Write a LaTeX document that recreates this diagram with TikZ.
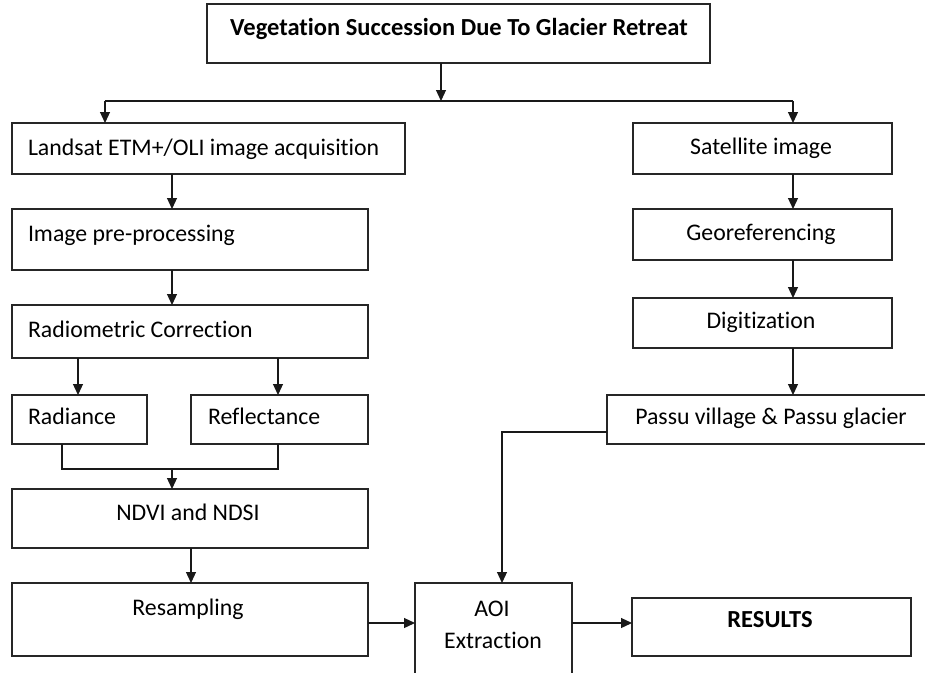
\documentclass[tikz,border=0pt]{standalone}
\usepackage{fontspec}
\setmainfont{Carlito}[Ligatures=NoCommon]
\usetikzlibrary{arrows.meta}
\begin{document}
\begin{tikzpicture}[x=1pt,y=-1pt,
  box/.style={draw=black!85, line width=1.2pt, inner sep=0pt, outer sep=0pt, fill=none},
  txt/.style={inner sep=0pt, outer sep=0pt, font=\fontsize{23.8}{28}\selectfont},
  btxt/.style={txt, font=\fontsize{24.5}{28}\selectfont\bfseries},
  ln/.style={draw=black!90, line width=1.2pt},
  arr/.style={ln, -{Triangle[width=10pt,length=11pt]}}]
\useasboundingbox (0,0) rectangle (925,672);
\begin{scope}
\clip (0,0) rectangle (925,672);
% boxes
\node[box, minimum width=503pt, minimum height=59pt] (title) at (458.5,33.5) {};
\node[box, minimum width=393pt, minimum height=51pt] (landsat) at (208.5,148.5) {};
\node[box, minimum width=356pt, minimum height=61pt] (pre) at (190,239.5) {};
\node[box, minimum width=356pt, minimum height=53pt] (radio) at (190,331.5) {};
\node[box, minimum width=135pt, minimum height=49pt] (radiance) at (79.5,419.5) {};
\node[box, minimum width=177pt, minimum height=49pt] (refl) at (279.5,419.5) {};
\node[box, minimum width=356pt, minimum height=59pt] (ndvi) at (190,518.5) {};
\node[box, minimum width=356pt, minimum height=73pt] (resamp) at (190,619.5) {};
\node[box, minimum width=157pt, minimum height=97pt] (aoi) at (493.5,631.5) {};
\node[box, minimum width=279pt, minimum height=58pt] (results) at (771.5,627) {};
\node[box, minimum width=259pt, minimum height=51pt] (sat) at (762.5,148.5) {};
\node[box, minimum width=259pt, minimum height=51pt] (geo) at (762.5,234.5) {};
\node[box, minimum width=259pt, minimum height=50pt] (digi) at (762.5,323) {};
\node[box, minimum width=328pt, minimum height=49pt] (passu) at (771,419.5) {};
\end{scope}
% texts
\node[btxt, anchor=base] (titleT) at (459,35) {Vegetation Succession Due To Glacier Retreat};
\node[txt, anchor=base west] (landsatT) at (28,155) {Landsat ETM+/OLI image acquisition};
\node[txt, anchor=base west] (preT) at (28,241) {Image pre-processing};
\node[txt, anchor=base west] (radioT) at (28,337) {Radiometric Correction};
\node[txt, anchor=base west] (radianceT) at (28,424) {Radiance};
\node[txt, anchor=base west] (reflT) at (208,424) {Reflectance};
\node[txt, anchor=base] (ndviT) at (188,520) {NDVI and NDSI};
\node[txt, anchor=base] (resampT) at (188,615) {Resampling};
\node[txt, anchor=base] (aoiT) at (492,616) {AOI};
\node[txt, anchor=base] (aoiT2) at (493,648) {Extraction};
\node[btxt, anchor=base] (resultsT) at (770,627) {RESULTS};
\node[txt, anchor=base] (satT) at (761,154) {Satellite image};
\node[txt, anchor=base] (geoT) at (761,240) {Georeferencing};
\node[txt, anchor=base] (digiT) at (761,328) {Digitization};
\node[txt, anchor=base] (passuT) at (771,424) {Passu village \& Passu glacier};
% connectors
\coordinate (split) at (441,101);
\coordinate (bl) at (105,101);
\coordinate (br) at (793,101);
\draw[arr] (title.south -| split) -- (split);
\draw[ln] (bl) -- (br);
\draw[arr] (bl) -- (bl |- landsat.north);
\draw[arr] (br) -- (br |- sat.north);
\draw[arr] (landsat.south -| 172,0) -- (pre.north -| 172,0);
\draw[arr] (pre.south -| 172,0) -- (radio.north -| 172,0);
\draw[arr] (radio.south -| 78,0) -- (radiance.north -| 78,0);
\draw[arr] (radio.south -| 278,0) -- (refl.north -| 278,0);
\coordinate (jl) at (62,469);
\coordinate (jr) at (278,469);
\coordinate (join) at (172,469);
\draw[ln] (radiance.south -| jl) -- (jl) -- (jr) -- (refl.south -| jr);
\draw[arr] (join) -- (ndvi.north -| join);
\draw[arr] (ndvi.south -| 191,0) -- (resamp.north -| 191,0);
\draw[arr] (resamp.east |- 0,623) -- (aoi.west |- 0,623);
\draw[arr] (aoi.east |- 0,623) -- (results.west |- 0,623);
\draw[arr] (sat.south -| br) -- (geo.north -| br);
\draw[arr] (geo.south -| br) -- (digi.north -| br);
\draw[arr] (digi.south -| br) -- (passu.north -| br);
\coordinate (pbend) at (502,432);
\draw[arr] (passu.west |- pbend) -- (pbend) -- (aoi.north -| pbend);
\end{tikzpicture}
\end{document}
